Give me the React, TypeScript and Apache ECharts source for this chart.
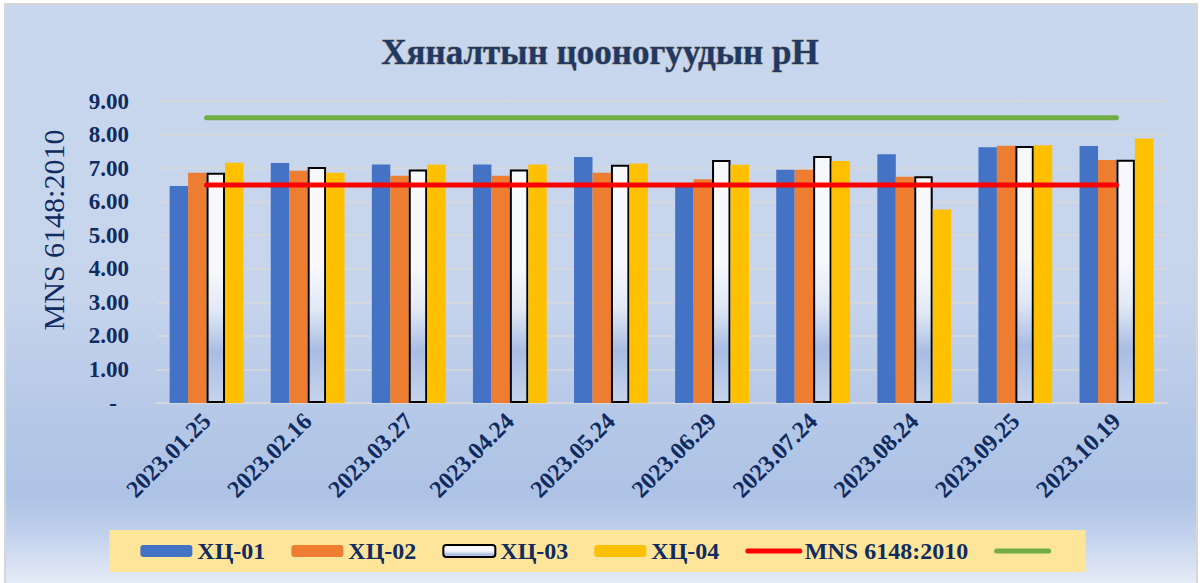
import React, { useEffect, useRef } from "react";
import * as echarts from "echarts";

const categories = [
  "2023.01.25", "2023.02.16", "2023.03.27", "2023.04.24", "2023.05.24",
  "2023.06.29", "2023.07.24", "2023.08.24", "2023.09.25", "2023.10.19",
];
const hc01 = [6.47, 7.15, 7.11, 7.11, 7.33, 6.45, 6.95, 7.41, 7.62, 7.66];
const hc02 = [6.86, 6.92, 6.77, 6.77, 6.86, 6.67, 6.95, 6.74, 7.67, 7.24];
const hc03 = [6.86, 7.03, 6.96, 6.96, 7.1, 7.24, 7.36, 6.76, 7.66, 7.25];
const hc04 = [7.16, 6.86, 7.11, 7.11, 7.14, 7.1, 7.21, 5.77, 7.68, 7.88];
const mnsLow = [6.5, 6.5, 6.5, 6.5, 6.5, 6.5, 6.5, 6.5, 6.5, 6.5];
const mnsHigh = [8.5, 8.5, 8.5, 8.5, 8.5, 8.5, 8.5, 8.5, 8.5, 8.5];
const seriesNames = ["ХЦ-01", "ХЦ-02", "ХЦ-03", "ХЦ-04", "MNS 6148:2010", " "];
const yTicks = [0, 1, 2, 3, 4, 5, 6, 7, 8, 9];

const NAVY = "#0f2b5f";
const SERIF = "'Liberation Serif', 'Times New Roman', serif";

export default function App() {
  const ref = useRef<HTMLDivElement>(null);
  useEffect(() => {
    if (!ref.current) return;
    const chart = echarts.init(ref.current, undefined, { renderer: "svg" });
    const whiteFill = new echarts.graphic.LinearGradient(0, 0, 0, 1, [
      { offset: 0, color: "#f6f8fc" },
      { offset: 0.42, color: "#f6f8fc" },
      { offset: 0.6, color: "#e2e9f5" },
      { offset: 0.78, color: "#a9bde3" },
      { offset: 1, color: "#c6d4ec" },
    ]);
    const bar = (name: string, data: number[], color: any, extra: any = {}) => ({
      name,
      type: "bar",
      data,
      barGap: "0%",
      barCategoryGap: "27%",
      itemStyle: { color, ...extra },
      z: 2,
    });
    const lineSeries = (name: string, data: number[], color: string) => ({
      name,
      type: "line",
      data,
      symbol: "none",
      z: 5,
      lineStyle: { color, width: 5, cap: "round" },
      itemStyle: { color: "rgba(0,0,0,0)" },
    });
    chart.setOption({
      animation: false,
      graphic: [
        {
          type: "rect",
          z: -100,
          silent: true,
          shape: { x: 5, y: 4, width: 1192, height: 590 },
          style: {
            fill: new echarts.graphic.LinearGradient(0, 0, 0, 1, [
              { offset: 0, color: "#c9d7ee" },
              { offset: 0.5, color: "#c6d4ec" },
              { offset: 0.7, color: "#b5c8e7" },
              { offset: 0.83, color: "#adc2e5" },
              { offset: 0.9, color: "#c2d1ec" },
              { offset: 1, color: "#eef2fa" },
            ]),
            stroke: "#d6d6d6",
            lineWidth: 2,
          },
        },
        {
          type: "text",
          x: 53,
          y: 230,
          rotation: Math.PI / 2,
          style: {
            text: "MNS 6148:2010",
            font: `normal 30px ${SERIF}`,
            fill: NAVY,
            textAlign: "center",
            textVerticalAlign: "middle",
          },
        },
      ],
      title: {
        text: "Хяналтын цооногуудын pH",
        left: "center",
        top: 30,
        textStyle: {
          fontFamily: SERIF,
          fontSize: 35,
          fontWeight: "bold",
          color: "#1f3864",
          textBorderColor: "#9c987e",
          textBorderWidth: 1,
        },
      },
      grid: { left: 156, right: 33, top: 101, bottom: 180, containLabel: false },
      legend: {
        data: seriesNames.map((n, i) =>
          i >= 4 ? { name: n, itemStyle: { opacity: 0 }, lineStyle: { width: 5, cap: "round" } } : { name: n }
        ),
        bottom: 11,
        left: "center",
        backgroundColor: "#fee599",
        padding: [9, 26, 9, 31],
        itemWidth: 52,
        itemHeight: 12,
        itemGap: 26,
        textStyle: { fontFamily: SERIF, fontSize: 24, fontWeight: "bold", color: NAVY },
      },
      xAxis: {
        type: "category",
        data: categories,
        axisLine: { lineStyle: { color: "#d9d9d9", width: 1.5 } },
        axisTick: { show: false },
        axisLabel: {
          rotate: 45,
          margin: 14,
          interval: 0,
          fontFamily: SERIF,
          fontSize: 24,
          fontWeight: "bold",
          color: NAVY,
        },
      },
      yAxis: {
        type: "value",
        min: yTicks[0],
        max: yTicks[yTicks.length - 1],
        interval: 1,
        axisLine: { show: false },
        axisTick: { show: false },
        splitLine: { lineStyle: { color: "#d9d9d9", width: 1.5 } },
        axisLabel: {
          margin: 27,
          fontFamily: SERIF,
          fontSize: 23,
          fontWeight: "bold",
          color: NAVY,
          formatter: (v: number) => (v === 0 ? "{d|-}" : v.toFixed(2)),
          rich: {
            d: { fontFamily: SERIF, fontSize: 23, fontWeight: "bold", color: NAVY, padding: [0, 12, 0, 0] },
          },
        },
      },
      series: [
        bar(seriesNames[0], hc01, "#4472c4"),
        bar(seriesNames[1], hc02, "#ed7d31"),
        bar(seriesNames[2], hc03, whiteFill, { borderColor: "#000000", borderWidth: 2 }),
        bar(seriesNames[3], hc04, "#ffc000"),
        lineSeries(seriesNames[4], mnsLow, "#ff0000"),
        lineSeries(seriesNames[5], mnsHigh, "#70ad47"),
      ],
    });
    return () => chart.dispose();
  }, []);
  return (
    <div
      ref={ref}
      style={{ position: "fixed", left: 0, top: 0, width: 1200, height: 583, background: "#ffffff" }}
    />
  );
}
